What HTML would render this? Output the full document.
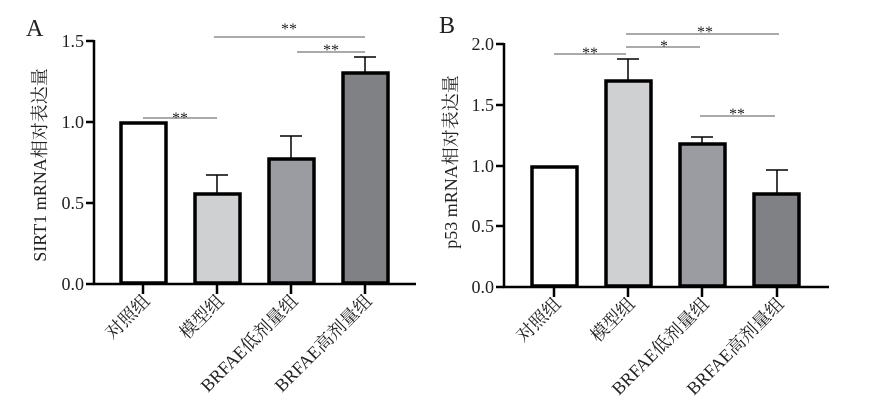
<!DOCTYPE html>
<html><head><meta charset="utf-8"><style>
html,body{margin:0;padding:0;background:#fff}
svg{display:block}
text{font-family:"Liberation Serif","Noto Serif CJK SC",serif;fill:#222}
</style></head><body>
<svg width="881" height="412" viewBox="0 0 881 412">
<!-- Panel A -->
<text x="26" y="36" font-size="24">A</text>
<g stroke="#000" stroke-width="2.5" fill="none">
<line x1="94" y1="40" x2="94" y2="285"/>
<line x1="93" y1="284" x2="416" y2="284"/>
<line x1="86" y1="41" x2="94" y2="41"/>
<line x1="86" y1="122" x2="94" y2="122"/>
<line x1="86" y1="203" x2="94" y2="203"/>
<line x1="86" y1="284" x2="94" y2="284"/>
<line x1="143" y1="284" x2="143" y2="294"/>
<line x1="217" y1="284" x2="217" y2="294"/>
<line x1="291" y1="284" x2="291" y2="294"/>
<line x1="365" y1="284" x2="365" y2="294"/>
</g>
<g font-size="18" text-anchor="end">
<text x="84" y="47">1.5</text><text x="84" y="128">1.0</text><text x="84" y="209">0.5</text><text x="84" y="290">0.0</text>
</g>
<text transform="translate(46,165) rotate(-90)" font-size="18" text-anchor="middle">SIRT1 mRNA相对表达量</text>
<g stroke="#000" stroke-width="1.5">
<line x1="291" y1="159" x2="291" y2="136"/><line x1="280" y1="136" x2="302" y2="136"/>
<line x1="217" y1="194" x2="217" y2="175"/><line x1="206" y1="175" x2="228" y2="175"/>
<line x1="365" y1="72" x2="365" y2="57"/><line x1="354" y1="57" x2="376" y2="57"/>
</g>
<g stroke="#000" stroke-width="3.5">
<rect x="121" y="123" width="45" height="160" fill="#fff"/>
<rect x="195" y="194" width="45" height="89" fill="#cfd0d2"/>
<rect x="269" y="159" width="45" height="124" fill="#9a9ca1"/>
<rect x="343" y="73" width="45" height="210" fill="#808185"/>
</g>
<g stroke="#555" stroke-width="1">
<line x1="143" y1="118" x2="217" y2="118"/>
<line x1="214" y1="37" x2="365" y2="37"/>
<line x1="297" y1="52" x2="365" y2="52"/>
</g>
<g font-size="16" text-anchor="middle">
<text x="180" y="123">**</text><text x="289" y="34">**</text><text x="331" y="55">**</text>
</g>
<g font-size="18" text-anchor="end">
<text transform="translate(151,302) rotate(-45)">对照组</text>
<text transform="translate(225,302) rotate(-45)">模型组</text>
<text transform="translate(299,302) rotate(-45)">BRFAE低剂量组</text>
<text transform="translate(373,302) rotate(-45)">BRFAE高剂量组</text>
</g>

<!-- Panel B -->
<text x="439" y="33" font-size="24">B</text>
<g stroke="#000" stroke-width="2.5" fill="none">
<line x1="504" y1="43" x2="504" y2="288"/>
<line x1="503" y1="287" x2="829" y2="287"/>
<line x1="496" y1="44" x2="504" y2="44"/>
<line x1="496" y1="105" x2="504" y2="105"/>
<line x1="496" y1="166" x2="504" y2="166"/>
<line x1="496" y1="226" x2="504" y2="226"/>
<line x1="496" y1="287" x2="504" y2="287"/>
<line x1="554" y1="287" x2="554" y2="297"/>
<line x1="628" y1="287" x2="628" y2="297"/>
<line x1="702" y1="287" x2="702" y2="297"/>
<line x1="777" y1="287" x2="777" y2="297"/>
</g>
<g font-size="18" text-anchor="end">
<text x="494" y="50">2.0</text><text x="494" y="111">1.5</text><text x="494" y="172">1.0</text><text x="494" y="232">0.5</text><text x="494" y="293">0.0</text>
</g>
<text transform="translate(457,162) rotate(-90)" font-size="18" text-anchor="middle">p53 mRNA相对表达量</text>
<g stroke="#000" stroke-width="1.5">
<line x1="628" y1="80" x2="628" y2="59"/><line x1="617" y1="59" x2="639" y2="59"/>
<line x1="702" y1="143" x2="702" y2="137"/><line x1="691" y1="137" x2="713" y2="137"/>
<line x1="777" y1="193" x2="777" y2="170"/><line x1="766" y1="170" x2="788" y2="170"/>
</g>
<g stroke="#000" stroke-width="3.5">
<rect x="532" y="167" width="45" height="119" fill="#fff"/>
<rect x="606" y="81" width="45" height="205" fill="#cfd0d2"/>
<rect x="680" y="144" width="45" height="142" fill="#9a9ca1"/>
<rect x="754" y="194" width="45" height="92" fill="#808185"/>
</g>
<g stroke="#555" stroke-width="1">
<line x1="554" y1="54" x2="626" y2="54"/>
<line x1="626" y1="47" x2="700" y2="47"/>
<line x1="626" y1="34" x2="779" y2="34"/>
<line x1="700" y1="116" x2="775" y2="116"/>
</g>
<g font-size="16" text-anchor="middle">
<text x="590" y="58">**</text><text x="664" y="51">*</text><text x="705" y="37">**</text><text x="737" y="119">**</text>
</g>
<g font-size="18" text-anchor="end">
<text transform="translate(562,305) rotate(-45)">对照组</text>
<text transform="translate(636,305) rotate(-45)">模型组</text>
<text transform="translate(710,305) rotate(-45)">BRFAE低剂量组</text>
<text transform="translate(785,305) rotate(-45)">BRFAE高剂量组</text>
</g>
</svg>
</body></html>
